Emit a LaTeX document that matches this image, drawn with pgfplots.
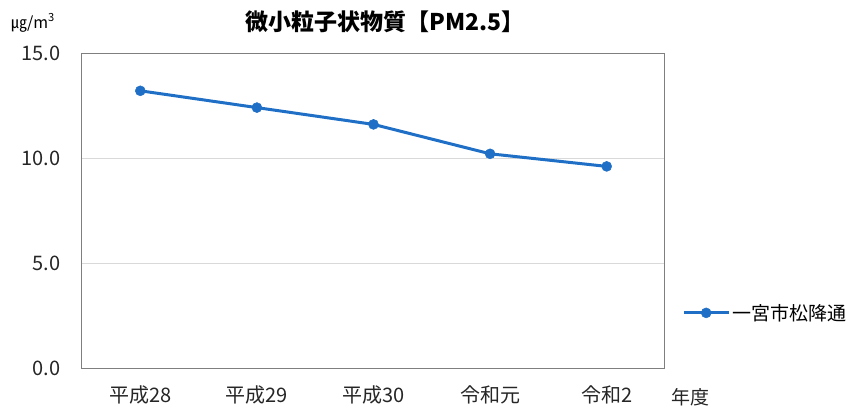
\documentclass[border=0pt]{standalone}
\usepackage{fontspec}
\usepackage{pgfplots}
\pgfplotsset{compat=1.18}
\setmainfont{Noto Sans CJK JP}
\definecolor{line}{HTML}{1F6FC6}
\definecolor{frame}{HTML}{7F7F7F}
\definecolor{grid}{HTML}{D9D9D9}
\begin{document}
\begin{tikzpicture}
\begin{axis}[
  name=ax,
  scale only axis,
  width=583pt,
  height=315pt,
  xmin=-0.5, xmax=4.5,
  ymin=0, ymax=15,
  xtick={0,1,2,3,4},
  xticklabels={平成28,平成29,平成30,令和元,令和2},
  ytick={0,5,10,15},
  yticklabel style={
    /pgf/number format/fixed,
    /pgf/number format/fixed zerofill,
    /pgf/number format/precision=1,
    xshift=-18pt,
  },
  /pgf/number format/assume math mode=true,
  tick label style={font=\fontsize{20}{22}\selectfont, text=black!85},
  xticklabel style={yshift=-14pt},
  major tick length=0pt,
  ymajorgrids=true,
  major grid style={draw=grid, line width=1pt},
  axis line style={draw=frame, line width=1pt},
  legend style={
    at={(1.03,0.175)}, anchor=west,
    draw=none, fill=none,
    font=\fontsize{19}{21}\selectfont,
    inner sep=0pt,
  },
  legend cell align=left,
  legend image code/.code={
    \draw[#1, mark repeat=2, mark phase=2]
      plot coordinates {(0pt,0pt) (22pt,0pt) (45pt,0pt)};
  },
]
  \addplot[color=line, line width=3pt, mark=*, mark size=5pt,
    mark options={fill=line, draw=line, line width=0.5pt}] coordinates {
    (0, 13.2)
    (1, 12.4)
    (2, 11.6)
    (3, 10.2)
    (4, 9.6)
  };
  \addlegendentry{一宮市松降通}
\end{axis}
\begin{scope}[shift={(ax.south west)}, xshift=-82pt, yshift=-40pt, x=1pt, y=1pt]
\pgfresetboundingbox
\useasboundingbox (0,0) rectangle (847,408);
\node[font=\bfseries\fontsize{23}{25}\selectfont] at (385,386) {微小粒子状物質【PM2.5】};
\node[font=\fontsize{16}{18}\selectfont] at (33,385) {㎍/m\textsuperscript{3}};
\node[font=\fontsize{19}{21}\selectfont, text=black!85] at (690,11) {年度};
\end{scope}
\end{tikzpicture}
\end{document}
